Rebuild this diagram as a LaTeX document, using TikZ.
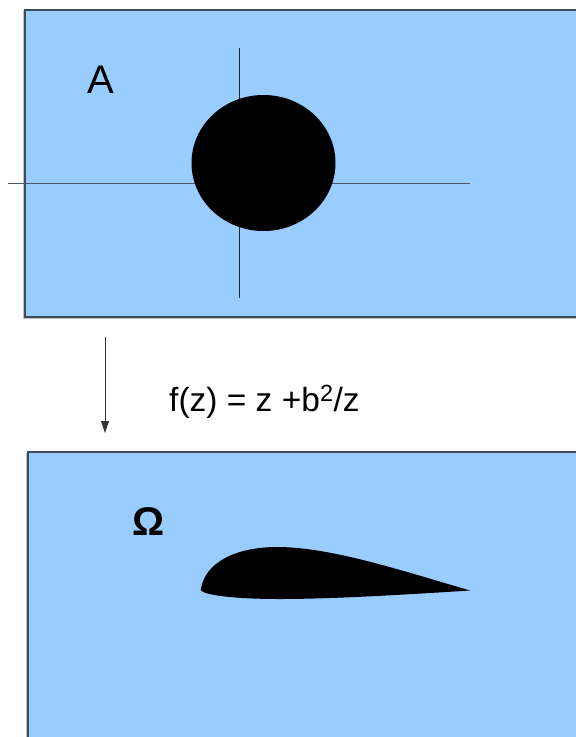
\documentclass[tikz,border=0pt]{standalone}
\usepackage{fontspec}
\setmainfont{Liberation Sans}
\usetikzlibrary{arrows.meta}
\definecolor{panel}{HTML}{99CCFF}
\definecolor{edge}{HTML}{3E4A5A}
\definecolor{axis}{HTML}{4A5A6A}
\tikzset{
  panelbox/.style={fill=panel, draw=edge, line width=1.3pt},
  axisline/.style={draw=axis, line width=1pt},
  blob/.style={fill=black, draw=none},
  label/.style={inner sep=0pt, anchor=base west, text=black},
  maparrow/.style={draw=black!80, line width=0.8pt, -{Triangle[width=8pt,length=12pt]}}
}
\begin{document}
\begin{tikzpicture}[x=1pt,y=-1pt]
\useasboundingbox (0,0) rectangle (576,737);
% top panel
\path[panelbox] (25,10) -- (590,10) -- (590,317) -- (25,317) -- cycle;
\draw[black!25, line width=0.8pt] (23.5,11) -- (23.5,318.5) -- (590,318.5);
% axes
\coordinate (hl) at (8,183.3);
\coordinate (hr) at (470,183.3);
\coordinate (vt) at (239.3,48);
\coordinate (vb) at (239.3,298);
\draw[axisline] (hl) -- (hr);
\draw[draw=black!85, line width=0.9pt] (vt) -- (vb);
% disk
\fill[blob] (263.5,163) ellipse [x radius=72, y radius=68];
\node[label, font=\fontsize{40}{40}\selectfont] (A) at (87,93) {A};
% arrow and map label
\coordinate (at) at (105,337);
\coordinate (ab) at (105,433);
\draw[maparrow] (at) -- (ab);
\node[label, font=\fontsize{33.5}{33.5}\selectfont] (map) at (169,411) {f(z) = z +b\textsuperscript{2}/z};
% bottom panel
\path[panelbox] (28,452) -- (590,452) -- (590,750) -- (28,750) -- cycle;
\draw[black!25, line width=0.8pt] (26.5,453) -- (26.5,750);
\node[label, font=\bfseries\fontsize{40}{40}\selectfont] (Om) at (132,535) {Ω};
% airfoil
\fill[blob] (200.7,590) .. controls (205,560) and (240,547) .. (277,547)
  .. controls (330,547) and (400,570) .. (470,590.5)
  .. controls (400,595) and (330,599) .. (280,599)
  .. controls (240,599) and (205,596) .. (200.7,590) -- cycle;
\end{tikzpicture}
\end{document}
